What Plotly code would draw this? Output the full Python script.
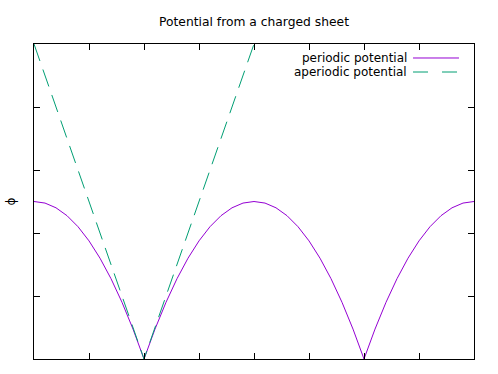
import plotly.graph_objects as go

# Data (x in units of tick spacing*2, phi normalised)
x_periodic = [round(i * 0.1, 1) for i in range(41)]
phi_periodic = [
    0.5, 0.495, 0.48, 0.455, 0.42, 0.375, 0.32, 0.255, 0.18, 0.095, 0.0,
    0.095, 0.18, 0.255, 0.32, 0.375, 0.42, 0.455, 0.48, 0.495, 0.5,
    0.495, 0.48, 0.455, 0.42, 0.375, 0.32, 0.255, 0.18, 0.095, 0.0,
    0.095, 0.18, 0.255, 0.32, 0.375, 0.42, 0.455, 0.48, 0.495, 0.5,
]
x_aperiodic = [0.0, 1.0, 2.0]
phi_aperiodic = [1.0, 0.0, 1.0]

series_names = ["periodic potential", "aperiodic potential"]
colors = ["#9400D3", "#009E73"]

FONT = "DejaVu Sans"

fig = go.Figure()
fig.add_trace(go.Scatter(x=x_periodic, y=phi_periodic, mode="lines",
                         name=series_names[0], line=dict(color=colors[0], width=1)))
fig.add_trace(go.Scatter(x=x_aperiodic, y=phi_aperiodic, mode="lines",
                         name=series_names[1],
                         line=dict(color=colors[1], width=1, dash="18px,9px")))

axis_common = dict(showline=True, mirror="ticks", linecolor="black", linewidth=1,
                   ticks="inside", ticklen=6, tickcolor="black", tickwidth=1,
                   showticklabels=False, showgrid=False, zeroline=False)

fig.update_layout(
    width=498, height=374,
    margin=dict(l=34, r=24, t=44, b=15),
    paper_bgcolor="white", plot_bgcolor="white",
    showlegend=False,
    font=dict(family=FONT, size=12, color="black"),
    title=dict(text="Potential from a charged sheet", x=0.5, xref="paper",
               y=1 - 22 / 374, yanchor="middle", font=dict(family=FONT, size=12.3)),
    xaxis=dict(range=[0, 4], dtick=0.5, tick0=0, **axis_common),
    yaxis=dict(range=[0, 1], dtick=0.2, tick0=0,
               title=dict(text="ϕ", standoff=14, font=dict(family=FONT, size=12)),
               **axis_common),
)

# gnuplot-style key: text right-aligned, sample line on the right
key_y = [0.9556, 0.9111]
for name, color, ky, dash in zip(series_names, colors, key_y, ["solid", "15px,14px"]):
    fig.add_annotation(text=name, xref="paper", yref="paper", x=0.852, y=ky,
                       xanchor="right", yanchor="middle", showarrow=False,
                       font=dict(family=FONT, size=12, color="black"))
    fig.add_shape(type="line", xref="paper", yref="paper", x0=0.8614, x1=0.9659,
                  y0=ky, y1=ky, line=dict(color=color, width=1, dash=dash))

fig.write_html("out.html",
               config={"displayModeBar": False},
               post_script="document.body.style.margin='0';document.body.style.overflow='hidden';")
